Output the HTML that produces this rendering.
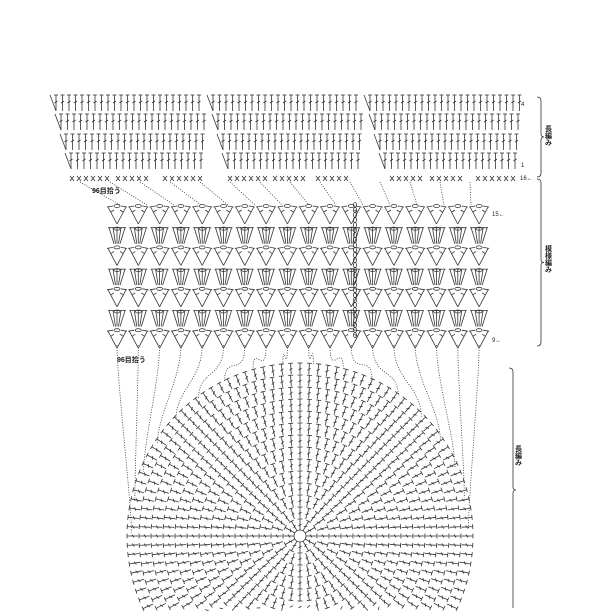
<!DOCTYPE html>
<html><head><meta charset="utf-8"><style>
html,body{margin:0;padding:0;background:#fff;width:612px;height:612px;overflow:hidden}
svg{display:block;overflow:hidden}
text{font-family:"Liberation Sans","Noto Sans CJK JP",sans-serif;fill:#222}
</style></head><body>
<svg id="s" width="612" height="612" viewBox="0 0 612 612" xmlns="http://www.w3.org/2000/svg">
<g id="g" stroke="#333" stroke-width="0.8" fill="none"></g>
<text x="521" y="106" font-size="6">4</text>
<text x="521" y="167" font-size="6">1</text>
<text x="520" y="180" font-size="6">16←</text>
<text x="492" y="216" font-size="6">15←</text>
<text x="492" y="342" font-size="6">9←</text>
<text x="92" y="193" font-size="7" font-weight="bold">96目拾う</text>
<text x="117" y="362" font-size="7" font-weight="bold">96目拾う</text>
<text x="548" y="125" font-size="7" font-weight="bold" writing-mode="tb">長編み</text>
<text x="548" y="245" font-size="7" font-weight="bold" writing-mode="tb">模様編み</text>
<text x="518" y="445" font-size="7" font-weight="bold" writing-mode="tb">長編み</text>
</svg>
<script>
var g=document.getElementById('g'),P=[];
function L(a,b,c,d,w){if(b>611||d>611)return;P.push('<line x1="'+a.toFixed(1)+'" y1="'+b.toFixed(1)+'" x2="'+c.toFixed(1)+'" y2="'+d.toFixed(1)+'"'+(w?' stroke-dasharray="1,1.5"':'')+'/>');}
var rows=[103,122,142,161];
for(var r=0;r<4;r++){var y=rows[r],sh=(r)*5;
 for(var b=0;b<3;b++){var x0=50+b*157+sh,x1=b==2?520:50+(b+1)*157-2;
  L(x0,y-8,x0+6,y+8);
  for(var x=x0+6;x<=x1;x+=6.5){L(x,y-8,x,y+8);L(x-2,y-8,x+2,y-8);L(x-1.5,y,x+1.5,y-2);}
 }}
var xs=[[72,112],[118,150],[165,202],[230,265],[275,305],[318,352],[392,425],[432,465],[478,518]];
xs.forEach(function(a){for(var x=a[0];x<=a[1];x+=7){L(x-2,176,x+2,181);L(x+2,176,x-2,181);}});
function brace(x,y1,y2){var m=(y1+y2)/2;P.push('<path d="M'+x+' '+y1+' q4 0 4 4 V'+(m-3)+' q0 3 3 3 q-3 0 -3 3 V'+(y2-4)+(y2<612?' q0 4 -4 4':'')+'"/>');}
brace(537,97,177);brace(537,179,346);brace(509,368,612);
for(var r=0;r<7;r++){var y=207+r*20.7;
 for(var i=0;i<18;i++){var cx=117+i*21.3;
  if(r%2==0){L(cx-9,y,cx,y+17);L(cx+9,y,cx,y+17);L(cx-6,y+5,cx-3,y+3);L(cx+6,y+5,cx+3,y+3);
   P.push('<ellipse cx="'+cx+'" cy="'+(y-1)+'" rx="3" ry="1.5"/>');L(cx-10,y,cx-4,y-1);L(cx+4,y-1,cx+10,y);}
  else{for(var k=-2;k<=2;k++){L(cx+k*1.5,y+16,cx+k*4,y);}L(cx-9,y,cx+9,y);
   P.push('<ellipse cx="'+cx+'" cy="'+(y+1)+'" rx="3" ry="1.5"/>');}
 }}
for(var y=205;y<340;y+=5)P.push('<ellipse cx="355" cy="'+y+'" rx="1.5" ry="2.5"/>');
for(var i=0;i<14;i++){var x=120+i*27;L(80+i*30,182,x,205,1);}
var cx=300,cy=536;
for(var i=0;i<18;i++){var x=117+i*21.3,a=Math.PI+ i/17*Math.PI*0.98+0.02;var ex=cx+172*Math.cos(a)*0.98,ey=cy-172*Math.abs(Math.sin(a));
 P.push('<path stroke-dasharray="1,1.5" d="M'+x+' 345 C'+x+' 380 '+ex+' '+(ey-30)+' '+ex+' '+ey+'"/>');}
P.push('<circle cx="'+cx+'" cy="'+cy+'" r="6"/>');
for(var k=1;k<=14;k++){var r0=6+(k-1)*12,r1=r0+11,n=8*k+4;
 for(var j=0;j<n;j++){var a=j/n*2*Math.PI,c=Math.cos(a),s=Math.sin(a);
  var x0=cx+r0*c,y0=cy+r0*s,x1=cx+r1*c,y1=cy+r1*s;
  L(x0,y0,x1,y1);L(x1-2.5*s,y1+2.5*c,x1+2.5*s,y1-2.5*c);
  var mx=cx+(r0+5)*c,my=cy+(r0+5)*s;L(mx-1.5*s+1*c,my+1.5*c+1*s,mx+1.5*s-1*c,my-1.5*c-1*s);
 }}
g.innerHTML=P.join('');
</script>
</body></html>
